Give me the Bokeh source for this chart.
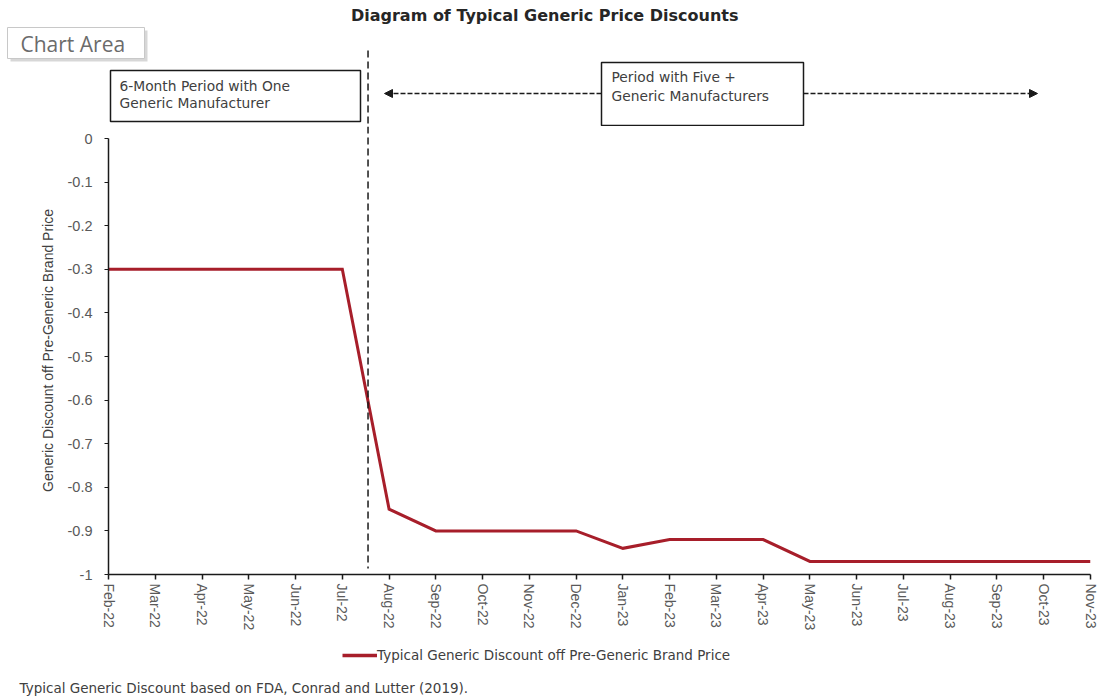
from bokeh.plotting import figure
from bokeh.layouts import column
from bokeh.models import Range1d, FixedTicker, Label, Legend, LegendItem, Arrow, NormalHead
from bokeh.embed import file_html
from bokeh.resources import INLINE

# ---- data ----
months = ["Feb-22", "Mar-22", "Apr-22", "May-22", "Jun-22", "Jul-22", "Aug-22",
          "Sep-22", "Oct-22", "Nov-22", "Dec-22", "Jan-23", "Feb-23", "Mar-23",
          "Apr-23", "May-23", "Jun-23", "Jul-23", "Aug-23", "Sep-23", "Oct-23", "Nov-23"]
discount = [-0.30, -0.30, -0.30, -0.30, -0.30, -0.30, -0.85,
            -0.90, -0.90, -0.90, -0.90, -0.94, -0.92, -0.92,
            -0.92, -0.97, -0.97, -0.97, -0.97, -0.97, -0.97, -0.97]
y_ticks = [0, -0.1, -0.2, -0.3, -0.4, -0.5, -0.6, -0.7, -0.8, -0.9, -1.0]
y_tick_labels = ["0", "-0.1", "-0.2", "-0.3", "-0.4", "-0.5", "-0.6", "-0.7", "-0.8", "-0.9", "-1"]
five_plus_start = 5.55  # month position where the multi-generic period begins

series_name = "Typical Generic Discount off Pre-Generic Brand Price"
title_text = "Diagram of Typical  Generic Price Discounts"
source_note = "Typical Generic Discount based on FDA, Conrad and Lutter (2019)."

# ---- page geometry (pixels) ----
W = 1101
AXIS_X0, AXIS_X1 = 108, 1090      # first / last month tick
ZERO_Y, MINUS_ONE_Y = 138, 574    # rows of 0 and -1
TOP_H = 126                       # header strip: title, period boxes
MAIN_BOTTOM = 640                 # end of the chart strip
PAGE_H = 700

n = len(months) - 1
px_per_month = (AXIS_X1 - AXIS_X0) / n
px_per_unit = MINUS_ONE_Y - ZERO_Y


def cx(px):
    """page x pixel -> month position"""
    return (px - AXIS_X0) / px_per_month


def cy(py):
    """page y pixel -> discount value"""
    return -(py - ZERO_Y) / px_per_unit


RED = "#A71E2A"
INK = "#1a1a1a"
TEXT = "#404040"
TICK = "#595959"
BODY_FONT = "DejaVu Sans"


def strip(y_top, y_bottom):
    """full-width figure sharing the chart's coordinate system"""
    f = figure(width=W, height=y_bottom - y_top,
               x_range=Range1d(cx(0), cx(W)), y_range=Range1d(cy(y_bottom), cy(y_top)),
               output_backend="svg", toolbar_location=None, title=None,
               x_axis_location=None, y_axis_location=None, frame_align=False,
               min_border=0, min_border_left=0, min_border_right=0,
               min_border_top=0, min_border_bottom=0)
    f.outline_line_color = None
    f.grid.visible = False
    f.background_fill_color = "white"
    f.border_fill_color = "white"
    return f


def label(f, text, px, py, size="13.8px", font=BODY_FONT, color=TEXT, align="left", style="normal"):
    f.add_layout(Label(x=cx(px), y=cy(py), text=text, text_align=align,
                       text_baseline="middle", text_font=font, text_font_size=size,
                       text_color=color, text_font_style=style))


# ================= header strip =================
top = strip(0, TOP_H)

# "Chart Area" tag with a soft drop shadow
top.quad(left=[cx(10)], right=[cx(147)], top=[cy(30)], bottom=[cy(61)],
         fill_color="#8c8c8c", fill_alpha=0.35, line_color=None)
top.quad(left=[cx(7)], right=[cx(144)], top=[cy(27)], bottom=[cy(58)],
         fill_color="white", line_color="#c8c8c8", line_width=1)
label(top, "Chart Area", 20, 43, size="21px", font="Open Sans", color="#6b6b6b")

label(top, title_text, 547, 15, size="16px", color="#262626", align="center", style="bold")

# boundary between the one-generic and five-plus periods (upper part)
top.segment(x0=[five_plus_start], y0=[cy(50)], x1=[five_plus_start], y1=[cy(TOP_H)],
            line_color=INK, line_width=1.5, line_dash="7 4")

# period boxes
top.quad(left=[cx(110)], right=[cx(360)], top=[cy(70)], bottom=[cy(121)],
         fill_color="white", line_color=INK, line_width=1.5)
top.quad(left=[cx(601)], right=[cx(803)], top=[cy(62)], bottom=[cy(125)],
         fill_color="white", line_color=INK, line_width=1.5)
label(top, "6-Month Period with One", 119, 85)
label(top, "Generic Manufacturer", 119, 102)
label(top, "Period with Five +", 611, 76)
label(top, "Generic Manufacturers", 611, 95)

# double-headed dashed arrow around the second box
for xs, xe in ((cx(601), cx(384)), (cx(803), cx(1037))):
    top.add_layout(Arrow(end=NormalHead(size=8, fill_color=INK, line_color=INK, line_width=1),
                         x_start=xs, y_start=cy(93), x_end=xe, y_end=cy(93),
                         line_color=INK, line_width=1.5, line_dash="5 2"))

# ================= chart strip =================
main_h = MAIN_BOTTOM - TOP_H
p = figure(width=W, height=main_h,
           x_range=Range1d(0, n), y_range=Range1d(-1.0, cy(TOP_H)),
           output_backend="svg", toolbar_location=None, title=None, frame_align=False,
           min_border_left=AXIS_X0, min_border_right=W - AXIS_X1,
           min_border_top=0, min_border_bottom=MAIN_BOTTOM - MINUS_ONE_Y)
p.outline_line_color = None
p.grid.visible = False
p.background_fill_color = "white"
p.border_fill_color = "white"

xa = p.xaxis[0]
xa.ticker = FixedTicker(ticks=list(range(len(months))))
xa.major_label_overrides = {i: m for i, m in enumerate(months)}
xa.major_label_orientation = "vertical"
xa.axis_line_color = INK
xa.axis_line_width = 1.5
xa.major_tick_line_color = INK
xa.major_tick_line_width = 1.5
xa.major_tick_in = 0
xa.major_tick_out = 5
xa.minor_tick_line_color = None
xa.major_label_standoff = 4
xa.major_label_text_font = "Liberation Sans"
xa.major_label_text_font_size = "14px"
xa.major_label_text_color = TICK

ya = p.yaxis[0]
ya.bounds = (-1.0, 0)
ya.ticker = FixedTicker(ticks=y_ticks)
ya.major_label_overrides = dict(zip(y_ticks, y_tick_labels))
ya.axis_line_color = INK
ya.axis_line_width = 1.5
ya.major_tick_line_color = INK
ya.major_tick_in = 0
ya.major_tick_out = 4
ya.minor_tick_line_color = None
ya.major_label_standoff = 12
ya.major_label_text_font = "Liberation Sans"
ya.major_label_text_font_size = "14.5px"
ya.major_label_text_color = TICK
ya.axis_label = "Generic Discount off Pre-Generic Brand Price"
ya.axis_label_text_font = "Liberation Sans"
ya.axis_label_text_font_size = "14px"
ya.axis_label_text_font_style = "normal"
ya.axis_label_text_color = TEXT
ya.axis_label_standoff = 9

line = p.line(x=list(range(len(months))), y=discount, line_color=RED, line_width=3,
              line_join="miter")

# boundary between the periods (lower part)
p.segment(x0=[five_plus_start], y0=[cy(TOP_H)], x1=[five_plus_start], y1=[cy(568)],
          line_color=INK, line_width=1.5, line_dash="7 4")

# ================= legend / source strip =================
foot = strip(MAIN_BOTTOM, PAGE_H)
# key renderer for the legend: styled like the series, holds no visible point
key = foot.line(x=[float("nan")], y=[float("nan")], line_color=RED, line_width=3.5)
# legend location is the box's lower-left corner, in pixels from the strip's lower-left
foot.add_layout(Legend(items=[LegendItem(label=series_name, renderers=[key])],
                       location=(342, PAGE_H - 663),
                       glyph_width=35, glyph_height=16, label_height=16, label_standoff=0,
                       padding=0, margin=0, border_line_color=None, background_fill_alpha=0,
                       label_text_font=BODY_FONT, label_text_font_size="13.5px",
                       label_text_color=TEXT))
label(foot, source_note, 19, 687, size="13.5px")

open("out.html", "w").write(file_html(column(top, p, foot, spacing=0), INLINE))
